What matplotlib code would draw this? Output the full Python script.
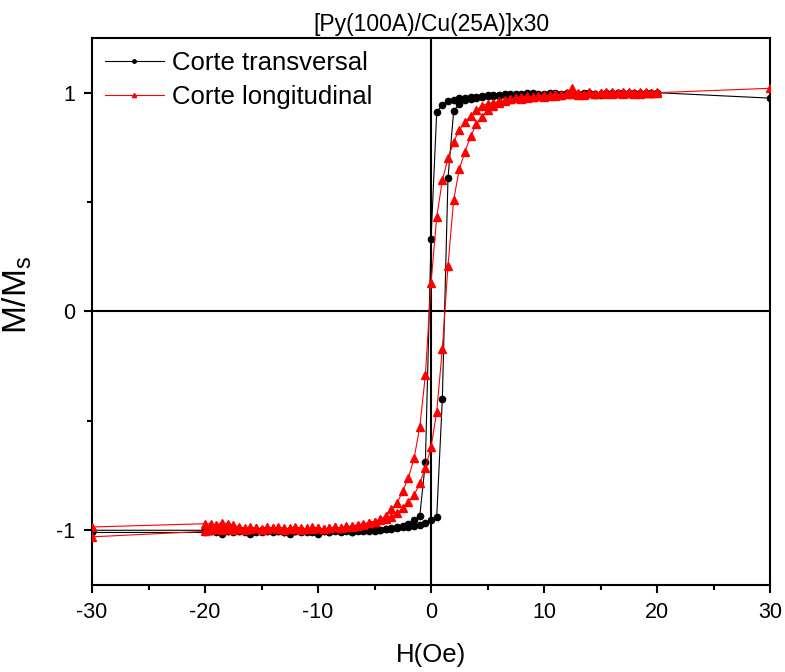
import numpy as np
import matplotlib
matplotlib.use("Agg")
import matplotlib.pyplot as plt
from matplotlib.ticker import MultipleLocator

plt.rcParams['font.family'] = ['Liberation Sans', 'DejaVu Sans']
plt.rcParams['axes.unicode_minus'] = False

# field sweep (Oe): down branch 20 -> -20, up branch -20 -> 20
H_down = [20, 19.5, 19, 18.5, 18, 17.5, 17, 16.5, 16, 15.5, 15, 14.5, 14, 13.5, 13, 12.5,
          12, 11.5, 11, 10.5, 10, 9.5, 9, 8.5, 8, 7.5, 7, 6.5, 6, 5.5, 5, 4.5, 4, 3.5, 3,
          2.5, 2, 1.5, 1, 0.5, 0, -0.5, -1, -1.5, -2, -2.5, -3, -3.5, -4, -4.5, -5, -5.5,
          -6, -6.5, -7, -7.5, -8, -8.5, -9, -9.5, -10, -10.5, -11, -11.5, -12, -12.5, -13,
          -13.5, -14, -14.5, -15, -15.5, -16, -16.5, -17, -17.5, -18, -18.5, -19, -19.5, -20]
H_up = H_down[::-1]

# Corte transversal (black)
trans_down = [1.0, 0.995, 1.0, 0.995, 1.0, 0.995, 1.0, 0.995, 1.0, 0.995, 0.99, 0.995, 1.0,
              0.995, 0.99, 0.995, 1.0, 0.995, 1.0, 0.995, 0.99, 0.995, 1.0, 0.995, 0.99,
              0.995, 0.99, 0.995, 0.99, 0.985, 0.99, 0.985, 0.98, 0.98, 0.975, 0.975, 0.965,
              0.96, 0.945, 0.91, 0.33, -0.69, -0.935, -0.955, -0.97, -0.98, -0.985, -0.99,
              -0.995, -1.0, -1.0, -1.005, -1.0, -1.005, -1.01, -1.0, -1.005, -1.0, -1.01,
              -1.005, -1.0, -1.005, -1.01, -1.0, -1.005, -1.0, -1.01, -1.005, -1.0, -1.005,
              -1.0, -1.01, -1.005, -1.0, -1.005, -1.0, -1.005, -1.01, -1.0, -1.005, -1.0]
trans_up = [-1.01, -1.005, -1.01, -1.015, -1.005, -1.01, -1.005, -1.01, -1.015, -1.005,
            -1.01, -1.005, -1.01, -1.005, -1.01, -1.015, -1.005, -1.01, -1.005, -1.01,
            -1.015, -1.005, -1.01, -1.005, -1.01, -1.005, -1.01, -1.0, -1.005, -1.0,
            -1.005, -1.0, -0.995, -0.995, -0.99, -0.985, -0.985, -0.98, -0.975, -0.965,
            -0.955, -0.94, -0.40, 0.61, 0.915, 0.95, 0.965, 0.97, 0.975, 0.98, 0.985, 0.99,
            0.985, 0.99, 0.995, 0.99, 0.995, 1.0, 0.995, 0.99, 0.995, 1.0, 0.995, 0.99, 0.995,
            1.0, 0.995, 1.0, 0.995, 0.99, 0.995, 1.0, 0.995, 1.0, 0.995, 1.0, 0.995, 1.0,
            0.995, 1.0, 1.0]

# Corte longitudinal (red)
long_down = [1.0, 1.0, 1.005, 0.995, 1.0, 1.005, 0.995, 1.0, 1.005, 0.995, 1.0, 0.995,
             1.005, 0.99, 1.0, 1.02, 0.995, 0.99, 0.995, 0.985, 0.99, 0.985, 0.98, 0.985,
             0.98, 0.975, 0.97, 0.965, 0.96, 0.955, 0.95, 0.94, 0.92, 0.895, 0.865, 0.83,
             0.775, 0.70, 0.60, 0.43, 0.13, -0.29, -0.53, -0.67, -0.76, -0.82, -0.875, -0.905,
             -0.935, -0.95, -0.96, -0.965, -0.975, -0.98, -0.985, -0.98, -0.99, -0.985, -0.99,
             -0.995, -0.99, -0.985, -0.995, -0.99, -0.985, -0.995, -0.99, -0.985, -0.99,
             -0.985, -0.995, -0.99, -0.985, -0.99, -0.985, -0.975, -0.97, -0.965, -0.975,
             -0.97, -0.97]
long_up = [-1.005, -1.0, -0.995, -1.0, -0.995, -1.0, -0.995, -1.0, -0.995, -0.99, -1.0,
           -0.995, -0.99, -0.995, -1.0, -0.99, -0.995, -1.0, -0.99, -0.995, -0.99, -0.995,
           -0.99, -0.985, -0.99, -0.985, -0.98, -0.975, -0.97, -0.965, -0.96, -0.955, -0.95,
           -0.94, -0.92, -0.90, -0.87, -0.84, -0.785, -0.715, -0.62, -0.46, -0.17, 0.21, 0.51,
           0.65, 0.73, 0.80, 0.855, 0.89, 0.92, 0.94, 0.955, 0.96, 0.97, 0.975, 0.97, 0.975,
           0.98, 0.985, 0.98, 0.99, 0.985, 0.99, 1.0, 0.995, 0.99, 0.995, 1.0, 0.995, 1.0,
           1.005, 0.995, 1.0, 1.005, 1.0, 0.995, 1.005, 1.0, 1.0, 1.005]

# end points measured at +/-30 Oe
trans_ends = [0.975, -1.0, -1.01]
long_ends = [1.02, -0.985, -1.03]

H_trans = [30] + H_down + [-30, -30] + H_up
M_trans = [trans_ends[0]] + trans_down + trans_ends[1:] + trans_up
H_long = [30] + H_down + [-30, -30] + H_up
M_long = [long_ends[0]] + long_down + long_ends[1:] + long_up

fig = plt.figure(figsize=(7.85, 6.72), dpi=100)
ax = fig.add_axes([0.1172, 0.1295, 0.8638, 0.814])

ax.axhline(0, color='black', lw=1.5, zorder=1)
ax.axvline(0, color='black', lw=1.5, zorder=1)

ax.plot(H_trans, M_trans, color='black', lw=0.8, marker='o', ms=4.5,
        label='Corte transversal', zorder=3)
ax.plot(H_long, M_long, color='red', lw=0.8, marker='^', ms=5.5,
        label='Corte longitudinal', zorder=4)

ax.set_xlim(-30, 30)
ax.set_ylim(-1.25, 1.25)
ax.xaxis.set_major_locator(MultipleLocator(10))
ax.xaxis.set_minor_locator(MultipleLocator(5))
ax.yaxis.set_major_locator(MultipleLocator(1))
ax.yaxis.set_minor_locator(MultipleLocator(0.5))
ax.tick_params(which='major', direction='out', length=6, width=1.5, labelsize=15.5, pad=6)
ax.tick_params(which='minor', direction='out', length=3.5, width=1.5)
for s in ax.spines.values():
    s.set_linewidth(1.5)

ax.set_xlabel('H(Oe)', fontsize=18.5, labelpad=15)
ax.set_ylabel('M/M$_\\mathregular{s}$', fontsize=24)
ax.yaxis.set_label_coords(-0.085, 0.53)
ax.set_title('[Py(100A)/Cu(25A)]x30', fontsize=16.5, pad=5)

ax.legend(loc='upper left', frameon=False, fontsize=18.5, handlelength=2.3,
          markerscale=0.55, borderaxespad=0.1, borderpad=0.4, labelspacing=0.4,
          handletextpad=0.3)

plt.savefig('out.png', dpi=100)
plt.close('all')
